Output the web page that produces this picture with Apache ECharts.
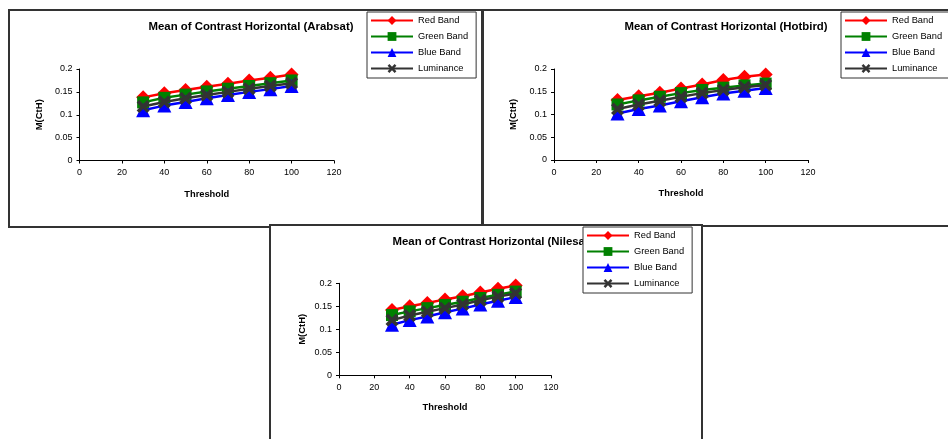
<!DOCTYPE html>
<html>
<head>
<meta charset="utf-8">
<script src="https://cdn.jsdelivr.net/npm/echarts@6/dist/echarts.min.js"></script>
<style>
  html, body { margin: 0; padding: 0; background: #fff; width: 948px; height: 439px; overflow: hidden; }
  .panel { position: absolute; background: #fff; }
</style>
</head>
<body>
<div id="p1" class="panel" style="left:8px;top:9px;width:475px;height:219px;"></div>
<div id="p2" class="panel" style="left:482px;top:9px;width:480px;height:218px;"></div>
<div id="p3" class="panel" style="left:269px;top:224px;width:434px;height:222px;"></div>
<script>
// Threshold values on the x axis
const thresholds = [30, 40, 50, 60, 70, 80, 90, 100];

// Mean of horizontal contrast, Arabsat
const arabsatRed   = [0.138, 0.147, 0.154, 0.161, 0.168, 0.175, 0.181, 0.188];
const arabsatGreen = [0.127, 0.137, 0.144, 0.151, 0.157, 0.163, 0.169, 0.175];
const arabsatBlue  = [0.110, 0.120, 0.128, 0.136, 0.143, 0.150, 0.156, 0.163];
const arabsatLum   = [0.118, 0.128, 0.136, 0.143, 0.150, 0.157, 0.163, 0.169];

// Mean of horizontal contrast, Hotbird
const hotbirdRed   = [0.132, 0.140, 0.148, 0.157, 0.166, 0.176, 0.183, 0.188];
const hotbirdGreen = [0.122, 0.131, 0.139, 0.147, 0.154, 0.159, 0.164, 0.168];
const hotbirdBlue  = [0.102, 0.112, 0.120, 0.129, 0.138, 0.146, 0.152, 0.158];
const hotbirdLum   = [0.112, 0.122, 0.130, 0.139, 0.147, 0.154, 0.160, 0.165];

// Mean of horizontal contrast, Nilesat
const nilesatRed   = [0.142, 0.150, 0.157, 0.165, 0.172, 0.180, 0.188, 0.195];
const nilesatGreen = [0.131, 0.139, 0.146, 0.153, 0.160, 0.168, 0.175, 0.182];
const nilesatBlue  = [0.110, 0.120, 0.128, 0.137, 0.145, 0.154, 0.162, 0.170];
const nilesatLum   = [0.120, 0.130, 0.138, 0.146, 0.154, 0.163, 0.171, 0.178];

const seriesNames = ['Red Band', 'Green Band', 'Blue Band', 'Luminance'];
const xTicks = { min: 0, max: 120, interval: 20 };
const yTicks = { min: 0, max: 0.2, interval: 0.05 };

const FONT = '"Liberation Sans", Arial, sans-serif';
const crossPath = 'path://M2,0 L5,3 L8,0 L10,2 L7,5 L10,8 L8,10 L5,7 L2,10 L0,8 L3,5 L0,2 Z';

const styles = [
  { color: '#ff0000', symbol: 'diamond', size: 14 },
  { color: '#008000', symbol: 'rect', size: 12 },
  { color: '#0000ff', symbol: 'triangle', size: 14 },
  { color: '#333333', symbol: crossPath, size: 13 }
];

function pairs(values) {
  return thresholds.map((t, i) => [t, values[i]]);
}

function buildOption(cfg) {
  return {
    animation: false,
    textStyle: { fontFamily: FONT },
    title: {
      text: cfg.title,
      left: cfg.titleX, top: 7,
      textAlign: 'center',
      textStyle: { fontFamily: FONT, fontSize: 11.4, fontWeight: 'bold', color: '#000' }
    },
    legend: {
      data: seriesNames,
      orient: 'vertical',
      left: cfg.legendX, top: 3,
      z: 10,
      backgroundColor: '#fff',
      borderColor: '#333',
      borderWidth: 1,
      padding: [4, 8, 5, 3],
      itemWidth: 42, itemHeight: 11, itemGap: 7,
      textStyle: { fontFamily: FONT, fontSize: 9.3, color: '#000' }
    },
    grid: { left: cfg.grid[0], top: cfg.grid[1], width: cfg.grid[2], height: cfg.grid[3] },
    xAxis: {
      type: 'value',
      min: xTicks.min, max: xTicks.max, interval: xTicks.interval,
      name: 'Threshold', nameLocation: 'middle', nameGap: cfg.xNameGap,
      nameTextStyle: { fontFamily: FONT, fontSize: 9.3, fontWeight: 'bold', color: '#000' },
      axisLine: { lineStyle: { color: '#000', width: 1 } },
      axisTick: { length: 3, lineStyle: { color: '#000' } },
      axisLabel: { margin: 8, fontFamily: FONT, fontSize: 9, color: '#000' },
      splitLine: { show: false }
    },
    yAxis: {
      type: 'value',
      min: yTicks.min, max: yTicks.max, interval: yTicks.interval,
      name: 'M(CtH)', nameLocation: 'middle', nameGap: cfg.yNameGap,
      nameTextStyle: { fontFamily: FONT, fontSize: 9.5, fontWeight: 'bold', color: '#000' },
      axisLine: { show: true, lineStyle: { color: '#000', width: 1 } },
      axisTick: { show: true, length: 3, lineStyle: { color: '#000' } },
      axisLabel: { margin: 7, fontFamily: FONT, fontSize: 9, color: '#000' },
      splitLine: { show: false }
    },
    graphic: [{
      type: 'rect', z: -1, silent: true,
      shape: { x: 1, y: 1, width: cfg.w - 2, height: cfg.h - 2 },
      style: { fill: '#fff', stroke: '#333', lineWidth: 2 }
    }],
    series: cfg.values.map((vals, i) => ({
      name: seriesNames[i],
      type: 'line',
      data: pairs(vals),
      symbol: styles[i].symbol,
      symbolSize: styles[i].size,
      showAllSymbol: true,
      lineStyle: { color: styles[i].color, width: 2.5 },
      itemStyle: { color: styles[i].color, borderWidth: 0 },
      z: 2 + i
    }))
  };
}

const panels = [
  { id: 'p1', w: 475, h: 219, title: 'Mean of Contrast Horizontal (Arabsat)', titleX: 238, legendX: 359,
    grid: [71.5, 60, 254.5, 91.5], xNameGap: 29, yNameGap: 31,
    values: [arabsatRed, arabsatGreen, arabsatBlue, arabsatLum] },
  { id: 'p2', w: 480, h: 218, title: 'Mean of Contrast Horizontal (Hotbird)', titleX: 239, legendX: 359,
    grid: [72, 60, 254, 91], xNameGap: 29, yNameGap: 31,
    values: [hotbirdRed, hotbirdGreen, hotbirdBlue, hotbirdLum] },
  { id: 'p3', w: 434, h: 222, title: 'Mean of Contrast Horizontal (Nilesat)', titleX: 218.5, legendX: 314,
    grid: [70, 59.3, 212, 92], xNameGap: 28, yNameGap: 32,
    values: [nilesatRed, nilesatGreen, nilesatBlue, nilesatLum] }
];

panels.forEach(cfg => {
  const chart = echarts.init(document.getElementById(cfg.id), null, { renderer: 'canvas' });
  chart.setOption(buildOption(cfg));
});
</script>
</body>
</html>
